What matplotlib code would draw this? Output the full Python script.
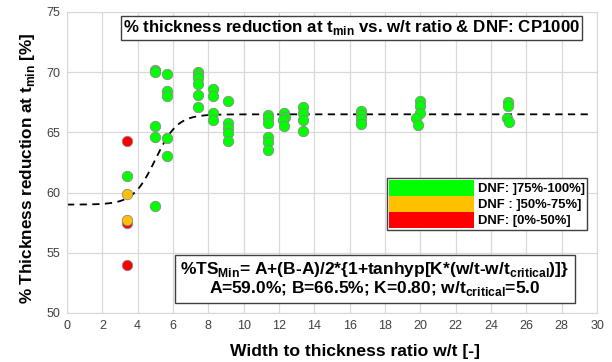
import numpy as np
import matplotlib
matplotlib.use("Agg")
import matplotlib.pyplot as plt
from matplotlib.patches import Patch

plt.rcParams["font.family"] = ["Liberation Sans", "DejaVu Sans"]
plt.rcParams["mathtext.fontset"] = "custom"
plt.rcParams["mathtext.rm"] = "Liberation Sans"
plt.rcParams["mathtext.bf"] = "Liberation Sans:bold"

# DNF ]75%-100%]
green_wt = [3.4,
            4.98, 4.98, 4.98, 4.98, 4.98,
            5.64, 5.64, 5.64, 5.64, 5.64,
            7.43, 7.43, 7.43, 7.43, 7.43, 7.43,
            8.28, 8.28, 8.28, 8.28,
            9.13, 9.13, 9.13, 9.13, 9.13,
            11.4, 11.4, 11.4, 11.4, 11.4, 11.4,
            12.28, 12.35, 12.2, 12.3,
            13.34, 13.34, 13.34, 13.34,
            16.64, 16.64, 16.64, 16.64,
            19.98, 19.98, 19.98, 19.75, 19.85,
            24.97, 24.97, 24.9, 25.0]
green_ts = [61.4,
            70.2, 70.0, 65.55, 64.6, 58.9,
            69.85, 68.4, 68.0, 64.5, 63.0,
            70.0, 69.8, 69.5, 69.0, 68.1, 67.1,
            68.6, 68.0, 66.6, 66.0,
            67.6, 65.75, 65.35, 64.95, 64.3,
            66.45, 66.2, 65.8, 64.65, 64.2, 63.5,
            66.6, 66.3, 66.0, 65.5,
            67.1, 66.6, 66.05, 65.1,
            66.8, 66.45, 66.1, 65.67,
            67.6, 67.2, 66.6, 66.2, 65.65,
            67.55, 67.15, 66.2, 65.85]

# DNF ]50%-75%]
orange_wt = [3.4, 3.4]
orange_ts = [59.9, 57.7]

# DNF [0%-50%]
red_wt = [3.4, 3.4, 3.4]
red_ts = [64.3, 57.45, 54.0]

# tanh fit parameters
A, B, K, WT_CRIT = 59.0, 66.5, 0.80, 5.0

fig = plt.figure(figsize=(6.12, 3.62), dpi=100)
ax = fig.add_axes([0.1095, 0.1354, 0.866, 0.8315])

ax.set_xlim(0, 30)
ax.set_ylim(50, 75)
ax.set_xticks(np.arange(0, 31, 2))
ax.set_yticks(np.arange(50, 76, 5))
ax.grid(True, color="#d9d9d9", linewidth=0.9)
ax.set_axisbelow(True)
for s in ax.spines.values():
    s.set_color("#d9d9d9")
ax.tick_params(length=0, labelsize=9, colors="#404040", pad=5)

wt = np.linspace(0, 29.7, 300)
fit = A + (B - A) / 2 * (1 + np.tanh(K * (wt - WT_CRIT)))
ax.plot(wt, fit, color="black", linestyle=(0, (4, 3)), linewidth=1.3, zorder=2)

mk = dict(marker="o", linestyle="none", markersize=7.5,
          markeredgecolor="#8a8a8a", markeredgewidth=0.6, zorder=3)
ax.plot(red_wt, red_ts, markerfacecolor="#ff0000", **mk)
ax.plot(orange_wt, orange_ts, markerfacecolor="#ffc000", **mk)
ax.plot(green_wt, green_ts, markerfacecolor="#00ff00", **mk)

ax.set_xlabel("Width to thickness ratio w/t [-]", fontsize=12.6, fontweight="bold")
ax.xaxis.set_label_coords(0.543, -0.103)
ax.set_ylabel(r"% Thickness reduction at t$_{\mathbf{min}}$ [%]", fontsize=12.3,
              fontweight="bold")
ax.yaxis.set_label_coords(-0.057, 0.482)

ax.text(16.1, 73.67,
        r"% thickness reduction at t$_{\mathbf{min}}$ vs. w/t ratio & DNF: CP1000",
        ha="center", va="center", fontsize=12.2, fontweight="bold",
        bbox=dict(boxstyle="square,pad=0.12", facecolor="white", edgecolor="#404040",
                  linewidth=1.0), zorder=5)

ax.text(17.43, 52.82,
        r"%TS$_{\mathbf{Min}}$= A+(B-A)/2*{1+tanhyp[K*(w/t-w/t$_{\mathbf{critical}}$)]}"
        "\n"
        r"A=59.0%; B=66.5%; K=0.80; w/t$_{\mathbf{critical}}$=5.0",
        ha="center", va="center", multialignment="center", fontsize=12.5,
        fontweight="bold", linespacing=0.95,
        bbox=dict(boxstyle="square,pad=0.3", facecolor="white", edgecolor="#404040",
                  linewidth=1.0), zorder=5)

handles = [Patch(facecolor="#00ff00", edgecolor="none", label="DNF: ]75%-100%]"),
           Patch(facecolor="#ffc000", edgecolor="none", label="DNF : ]50%-75%]"),
           Patch(facecolor="#ff0000", edgecolor="none", label="DNF: [0%-50%]")]
leg = ax.legend(handles=handles, loc="upper right", bbox_to_anchor=(0.981, 0.4485),
                prop={"weight": "bold", "size": 9.4},
                handlelength=6.5, handleheight=1.5, labelspacing=0.0,
                handletextpad=0.3, borderpad=0.15, borderaxespad=0.0,
                fancybox=False, framealpha=1.0, edgecolor="#404040")
leg.get_frame().set_linewidth(1.0)
leg.set_zorder(6)

fig.savefig("out.png", dpi=100)
